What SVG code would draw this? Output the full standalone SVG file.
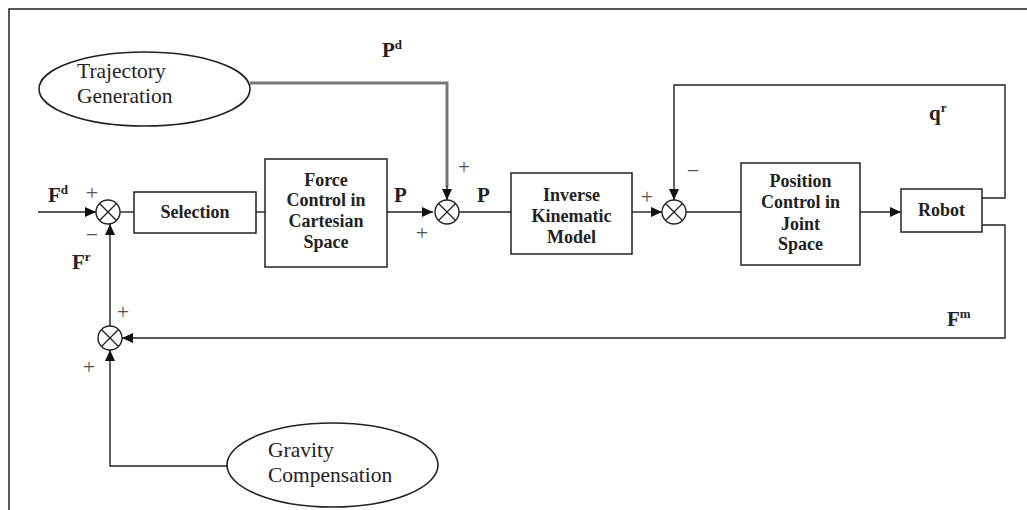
<svg xmlns="http://www.w3.org/2000/svg" width="1027" height="510" viewBox="0 0 1027 510">
<style>
.box{fill:#fff;stroke:#222;stroke-width:1.5}
.ell{fill:#fff;stroke:#222;stroke-width:1.6}
.sum{fill:#fff;stroke:#222;stroke-width:1.4}
.x{stroke:#222;stroke-width:1.3}
.wire{fill:none;stroke:#222;stroke-width:1.4}
.gray{fill:none;stroke:#777;stroke-width:3}
.bt{font-family:"Liberation Serif","Times New Roman",serif;font-weight:bold;font-size:18px;fill:#222;text-anchor:middle}
.et{font-family:"Liberation Serif","Times New Roman",serif;font-size:21.5px;fill:#222}
.lab{font-family:"Liberation Serif","Times New Roman",serif;font-weight:bold;font-size:21px;fill:#222}
.sup{font-size:13px}
.sg{font-family:"Liberation Serif","Times New Roman",serif;font-size:22px;fill:#555;text-anchor:middle;dominant-baseline:central}
</style>
<defs>
<marker id="ah" markerUnits="userSpaceOnUse" markerWidth="12" markerHeight="10" refX="11" refY="5" orient="auto">
<path d="M0,0 L11,5 L0,10 Z" fill="#111"/>
</marker>
</defs>
<rect width="1027" height="510" fill="#fff"/>
<path d="M9,510 V9 H1027" fill="none" stroke="#222" stroke-width="1.5"/>

<g id="connectors">
<path class="wire" d="M38,212 H96" marker-end="url(#ah)"/>
<path class="wire" d="M120,212 H134"/>
<path class="wire" d="M256,212 H265"/>
<path class="wire" d="M387,212 H433" marker-end="url(#ah)"/>
<path class="gray" d="M250,83 H447 V187"/>
<path class="wire" d="M447,186 V200" marker-end="url(#ah)"/>
<path class="wire" d="M459,212 H511"/>
<path class="wire" d="M632,212 H662" marker-end="url(#ah)"/>
<path class="wire" d="M686,212 H741"/>
<path class="wire" d="M860,212 H901" marker-end="url(#ah)"/>
<path class="wire" d="M982,198 H1005 V85 H674 V200" marker-end="url(#ah)"/>
<path class="wire" d="M982,225 H1005 V338 H122" marker-end="url(#ah)"/>
<path class="wire" d="M110,326 V224" marker-end="url(#ah)"/>
<path class="wire" d="M227,466 H110 V350" marker-end="url(#ah)"/>
</g>

<g id="traj">
<ellipse class="ell" cx="144.5" cy="89" rx="105.5" ry="37"/>
<text class="et" x="77" y="78">Trajectory</text>
<text class="et" x="77" y="103">Generation</text>
</g>

<g id="grav">
<ellipse class="ell" cx="332.5" cy="465" rx="105.5" ry="42"/>
<text class="et" x="268" y="457">Gravity</text>
<text class="et" x="268" y="482">Compensation</text>
</g>

<g id="sum1">
<circle class="sum" cx="108" cy="212" r="12"/>
<path class="x" d="M99.5,203.5 L116.5,220.5 M116.5,203.5 L99.5,220.5"/>
</g>
<g id="sum2">
<circle class="sum" cx="447" cy="212" r="12"/>
<path class="x" d="M438.5,203.5 L455.5,220.5 M455.5,203.5 L438.5,220.5"/>
</g>
<g id="sum3">
<circle class="sum" cx="674" cy="212" r="12"/>
<path class="x" d="M665.5,203.5 L682.5,220.5 M682.5,203.5 L665.5,220.5"/>
</g>
<g id="sum4">
<circle class="sum" cx="110" cy="338" r="12"/>
<path class="x" d="M101.5,329.5 L118.5,346.5 M118.5,329.5 L101.5,346.5"/>
</g>

<g id="selection">
<rect class="box" x="134" y="192" width="122" height="41"/>
<text class="bt" x="195" y="218">Selection</text>
</g>

<g id="force">
<rect class="box" x="265" y="159" width="122" height="108"/>
<text class="bt" x="326" y="186">Force</text>
<text class="bt" x="326" y="206">Control in</text>
<text class="bt" x="326" y="227">Cartesian</text>
<text class="bt" x="326" y="248">Space</text>
</g>

<g id="ik">
<rect class="box" x="511" y="173" width="121" height="81"/>
<text class="bt" x="571.5" y="201">Inverse</text>
<text class="bt" x="571.5" y="222">Kinematic</text>
<text class="bt" x="571.5" y="243">Model</text>
</g>

<g id="poscontrol">
<rect class="box" x="741" y="163" width="119" height="102"/>
<text class="bt" x="800.5" y="187">Position</text>
<text class="bt" x="800.5" y="208">Control in</text>
<text class="bt" x="800.5" y="230">Joint</text>
<text class="bt" x="800.5" y="250">Space</text>
</g>

<g id="robot">
<rect class="box" x="901" y="189" width="81" height="43"/>
<text class="bt" x="941.5" y="216">Robot</text>
</g>

<g id="labels">
<text class="lab" x="48" y="202">F<tspan class="sup" dy="-8">d</tspan></text>
<text class="lab" x="72" y="269">F<tspan class="sup" dy="-8">r</tspan></text>
<text class="lab" x="382" y="57">P<tspan class="sup" dy="-8">d</tspan></text>
<text class="lab" x="394" y="202">P</text>
<text class="lab" x="477" y="202">P</text>
<text class="lab" x="929" y="120">q<tspan class="sup" dy="-8">r</tspan></text>
<text class="lab" x="947" y="326">F<tspan class="sup" dy="-8">m</tspan></text>
<text class="sg" x="92" y="192">+</text>
<text class="sg" x="92" y="234">−</text>
<text class="sg" x="464" y="166">+</text>
<text class="sg" x="422" y="232">+</text>
<text class="sg" x="647" y="196">+</text>
<text class="sg" x="693" y="170">−</text>
<text class="sg" x="123" y="311">+</text>
<text class="sg" x="89" y="366">+</text>
</g>
</svg>
